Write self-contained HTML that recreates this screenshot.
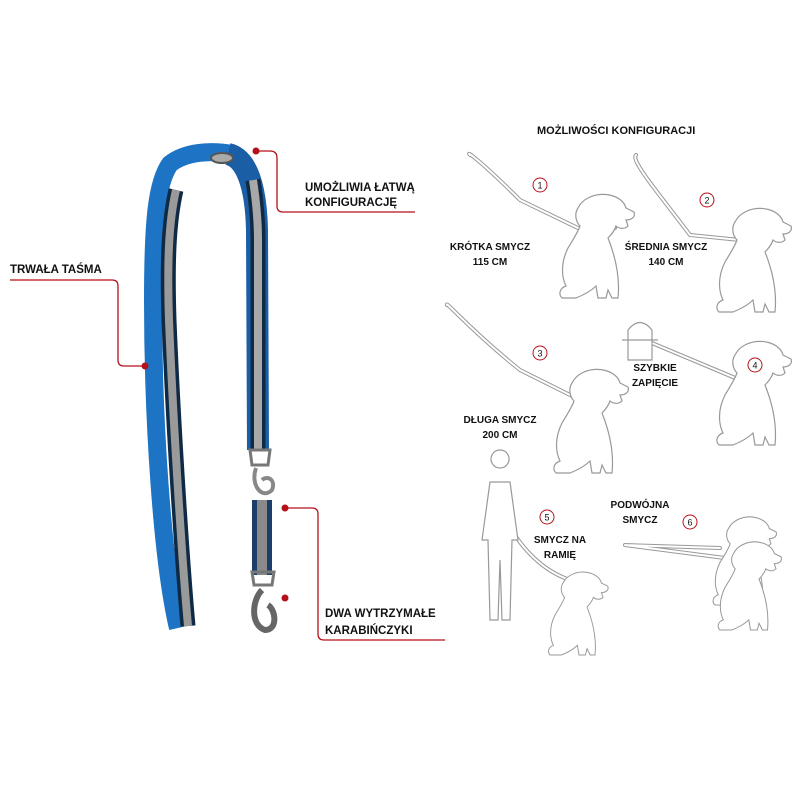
<!DOCTYPE html>
<html><head><meta charset="utf-8"><style>
body{margin:0;background:#fff;}
svg{display:block}
text{font-family:"Liberation Sans",sans-serif;font-weight:bold;fill:#111;}
</style></head><body>
<svg width="800" height="800" viewBox="0 0 800 800" xmlns="http://www.w3.org/2000/svg">
<defs>
<g id="dog" fill="#fff" stroke="#999" stroke-width="1.2">
<path d="M20 0 C35 -8 55 -2 58 10 L66 14 C68 20 62 22 58 22 L60 28 C56 32 50 30 48 28 C46 34 42 38 40 40 C48 60 52 80 50 100 L44 100 L40 92 L38 100 L30 100 L28 88 C24 92 18 96 8 100 L-6 100 C-10 96 -8 90 -2 88 C-6 80 -8 66 0 50 C6 40 10 34 12 28 C8 24 6 16 10 10 C12 6 16 2 20 0 Z"/>
</g>
</defs>
<!-- Leash -->
<path d="M178 628 C162 560 153 420 153 300 C153 220 157 182 170 164 C185 152 210 150 232 154" fill="none" stroke="#1d74c4" stroke-width="18"/>
<path d="M188 626 C182 560 173 420 169 320 C167 260 169 220 176 190" fill="none" stroke="#0f2a44" stroke-width="15"/>
<path d="M188 626 C182 560 173 420 169 320 C167 260 169 220 176 190" fill="none" stroke="#9a9a9a" stroke-width="8"/>
<path d="M228 154 C246 158 256 185 257 230 L258 450" fill="none" stroke="#1a5ea6" stroke-width="22"/>
<path d="M253 180 C256 200 258 220 258 240 L258 450" fill="none" stroke="#0f2a44" stroke-width="15"/>
<path d="M253 180 C256 200 258 220 258 240 L258 450" fill="none" stroke="#a8a8a8" stroke-width="8"/>
<ellipse cx="222" cy="158" rx="11" ry="5" fill="#aaa" stroke="#555" stroke-width="2"/>
<path d="M250 450 L270 450 L268 465 L252 465 Z" fill="none" stroke="#777" stroke-width="3"/>
<path d="M256 468 C250 485 262 500 272 490 C276 480 268 475 262 480" fill="none" stroke="#888" stroke-width="4"/>
<rect x="252" y="500" width="20" height="75" fill="#1a3f6a"/>
<rect x="257" y="500" width="10" height="75" fill="#8a8a8a"/>
<path d="M252 572 L274 572 L272 585 L254 585 Z" fill="none" stroke="#777" stroke-width="3"/>
<path d="M262 590 C252 600 250 625 265 630 C278 630 276 610 268 605" fill="none" stroke="#666" stroke-width="6"/>
<!-- red callouts -->
<g stroke="#b3121b" stroke-width="1.3" fill="none">
<path d="M256 151 L270 151 Q277 151 277 158 L277 206 Q277 212 283 212 L415 212"/>
<path d="M10 280 L112 280 Q118 280 118 286 L118 360 Q118 366 124 366 L145 366"/>
<path d="M285 508 L312 508 Q318 508 318 514 L318 634 Q318 640 324 640 L445 640"/>
</g>
<g fill="#b3121b"><circle cx="256" cy="151" r="3.5"/><circle cx="145" cy="366" r="3.5"/><circle cx="285" cy="508" r="3.5"/><circle cx="285" cy="598" r="3.5"/></g>
<text x="305" y="191" font-size="11.5">UMOŻLIWIA ŁATWĄ</text>
<text x="305" y="206" font-size="11.5">KONFIGURACJĘ</text>
<text x="10" y="273" font-size="11.5">TRWAŁA TAŚMA</text>
<text x="325" y="617" font-size="11.5">DWA WYTRZYMAŁE</text>
<text x="325" y="634" font-size="11.5">KARABIŃCZYKI</text>
<!-- right panel -->
<text x="537" y="134" font-size="11">MOŻLIWOŚCI KONFIGURACJI</text>
<g stroke="#999" stroke-width="4" fill="none" stroke-linecap="round">
<path d="M470 155 C465 150 480 160 520 200 L578 228 L615 228"/>
<path d="M636 155 C630 160 660 195 690 235 L740 240"/>
<path d="M447 305 C445 300 470 330 520 370 L580 400"/>
<path d="M640 338 L740 380"/>
<path d="M498 498 C510 540 540 570 570 580"/>
<path d="M625 545 L720 548 M625 545 L740 560"/>
</g>
<g stroke="#fff" stroke-width="2" fill="none" stroke-linecap="round">
<path d="M470 155 C465 150 480 160 520 200 L578 228 L615 228"/>
<path d="M636 155 C630 160 660 195 690 235 L740 240"/>
<path d="M447 305 C445 300 470 330 520 370 L580 400"/>
<path d="M640 338 L740 380"/>
<path d="M498 498 C510 540 540 570 570 580"/>
<path d="M625 545 L720 548 M625 545 L740 560"/>
</g>
<use href="#dog" transform="translate(568,198)"/>
<use href="#dog" transform="translate(725,212)"/>
<use href="#dog" transform="translate(562,373)"/>
<use href="#dog" transform="translate(725,345)"/>
<use href="#dog" transform="translate(555,575) scale(0.8)"/>
<use href="#dog" transform="translate(720,520) scale(0.85)"/>
<use href="#dog" transform="translate(725,545) scale(0.85)"/>
<path d="M628 360 L628 330 Q640 315 652 330 L652 360 Z M622 340 L658 340" fill="#fff" stroke="#999" stroke-width="1.2"/>
<path d="M500 468 a9 9 0 1 1 0.1 0 M490 482 L510 482 L518 540 L512 540 L510 620 L502 620 L500 560 L498 620 L490 620 L488 540 L482 540 Z" fill="#fff" stroke="#999" stroke-width="1.2"/>
<g fill="none" stroke="#b3121b" stroke-width="1"><circle cx="540" cy="185" r="7"/><circle cx="707" cy="200" r="7"/><circle cx="540" cy="353" r="7"/><circle cx="755" cy="365" r="7"/><circle cx="547" cy="517" r="7"/><circle cx="690" cy="522" r="7"/></g>
<g font-size="9" text-anchor="middle">
<text x="540" y="188.5" fill="#b3121b" style="font-weight:normal">1</text><text x="707" y="203.5" fill="#b3121b" style="font-weight:normal">2</text><text x="540" y="356.5" fill="#b3121b" style="font-weight:normal">3</text><text x="755" y="368.5" fill="#b3121b" style="font-weight:normal">4</text><text x="547" y="520.5" fill="#b3121b" style="font-weight:normal">5</text><text x="690" y="525.5" fill="#b3121b" style="font-weight:normal">6</text>
</g>
<g font-size="10" text-anchor="middle">
<text x="490" y="250">KRÓTKA SMYCZ</text><text x="490" y="265">115 CM</text>
<text x="666" y="250">ŚREDNIA SMYCZ</text><text x="666" y="265">140 CM</text>
<text x="500" y="423">DŁUGA SMYCZ</text><text x="500" y="438">200 CM</text>
<text x="655" y="371">SZYBKIE</text><text x="655" y="386">ZAPIĘCIE</text>
<text x="560" y="543">SMYCZ NA</text><text x="560" y="558">RAMIĘ</text>
<text x="640" y="508">PODWÓJNA</text><text x="640" y="523">SMYCZ</text>
</g>
</svg>
</body></html>
